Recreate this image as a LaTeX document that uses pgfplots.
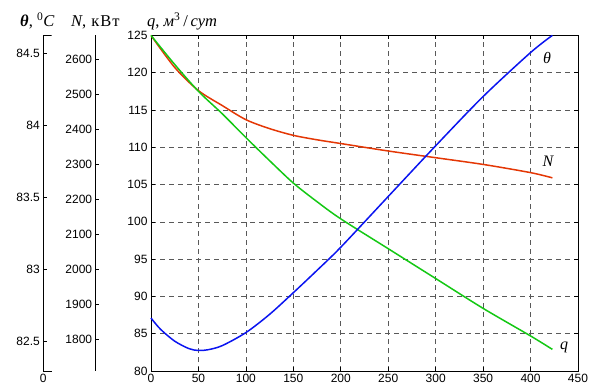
\documentclass[border=0pt]{standalone}
\usepackage{fontspec}
\setmainfont{Liberation Serif}
\newfontfamily\sans{Liberation Sans}
\newfontfamily\wideserif[LetterSpace=6]{Liberation Serif}
\usepackage{pgfplots}
\pgfplotsset{compat=1.18}
\definecolor{cblue}{RGB}{10,20,240}
\definecolor{cred}{RGB}{228,55,5}
\definecolor{cgreen}{RGB}{20,200,20}
\begin{document}
\begin{tikzpicture}
\useasboundingbox (0pt,0pt) rectangle (589pt,-387pt);
\pgfplotsset{every axis/.append style={scale only axis, anchor=south west,
  ticklabel style={font=\sans\fontsize{12}{12}\selectfont},
  /pgf/number format/assume math mode=true,
  /pgf/number format/1000 sep={},
  tick style={black, line width=0.6pt}}}
% main axis
\begin{axis}[at={(151pt,-371pt)}, width=427pt, height=335.6pt,
  xmin=0, xmax=450, ymin=80, ymax=125,
  xtick={0,50,...,450}, ytick={80,85,...,125},
  tick align=inside, major tick length=4pt,
  grid=major, major grid style={dash pattern=on 5pt off 4pt, black!65, line width=0.6pt},
  axis line style={line width=0.8pt}, clip=false]
\addplot[cred, line width=1.5pt, smooth] coordinates {
(0,125) (25,120.7) (50,117.6) (75,115.6) (100,113.7) (125,112.5) (150,111.6) (175,111.0)
(200,110.5) (250,109.5) (300,108.6) (350,107.7) (400,106.6) (423,105.9)};
\addplot[cgreen, line width=1.5pt, smooth] coordinates {
(0,125) (25,121.1) (50,117.5) (75,114.5) (100,111.3) (125,108.2) (150,105.2) (175,102.7)
(200,100.4) (250,96.4) (300,92.4) (350,88.4) (400,84.7) (423,82.9)};
\addplot[cblue, line width=1.5pt, smooth] coordinates {
(0,87.1) (10,85.6) (25,84.0) (40,83.0) (50,82.75) (60,82.85) (75,83.4) (100,85.15)
(125,87.6) (150,90.5) (175,93.5) (200,96.6) (250,103.4) (300,110.2) (350,116.8) (400,122.7) (423,125)};
\node[font=\itshape\fontsize{16}{16}\selectfont] at (axis cs:417.5,122) {θ};
\node[font=\itshape\fontsize{16}{16}\selectfont] at (axis cs:418.3,108.1) {N};
\node[font=\itshape\fontsize{16}{16}\selectfont] at (axis cs:435.5,83.1) {q};
\end{axis}
% theta axis
\begin{axis}[at={(43.3pt,-371pt)}, width=8.4pt, height=335.6pt,
  xmin=0, xmax=1, ymin=82.292, ymax=84.622,
  axis lines=left, axis line style={-, line width=0.8pt},
  ytick={82.5,83,83.5,84,84.5}, xtick={0}, xticklabels={0},
  tick align=inside, major tick length=4pt]
\draw[line width=0.8pt] (rel axis cs:0,1) -- (rel axis cs:1,1);
\end{axis}
% N axis
\begin{axis}[at={(95.7pt,-371pt)}, width=3pt, height=335.6pt,
  xmin=0, xmax=1, ymin=1710, ymax=2669,
  axis y line=left, axis x line=none, axis line style={-, line width=0.8pt},
  ytick={1800,1900,...,2600},
  tick align=inside, major tick length=3pt]
\end{axis}
\node[anchor=base west, inner sep=0pt, font=\fontsize{16.5}{16.5}\selectfont] at (20pt,-26.5pt) {\textbf{\textit{θ}}, \textsuperscript{0}\textit{C}};
\node[anchor=base west, inner sep=0pt, font=\fontsize{16.5}{16.5}\selectfont] at (71pt,-26.5pt) {\textit{N},\hspace{0.3em}{\wideserif кВт}};
\node[anchor=base west, inner sep=0pt, font=\fontsize{16.5}{16.5}\selectfont] at (147pt,-26.5pt) {\textit{q}, \textit{м}\textsuperscript{3}\,/\,\textit{сут}};
\end{tikzpicture}
\end{document}
